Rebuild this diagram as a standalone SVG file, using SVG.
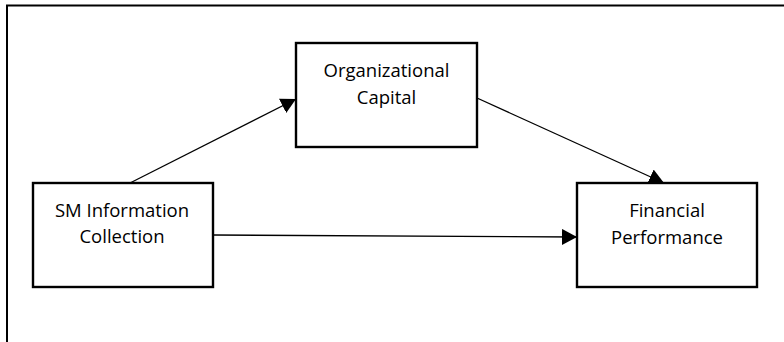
<svg xmlns="http://www.w3.org/2000/svg" width="784" height="342" viewBox="0 0 784 342">
  <style>
    .box { fill: #ffffff; stroke: #000000; stroke-width: 2.4; }
    .frame { fill: none; stroke: #000000; stroke-width: 2; }
    .edge { fill: none; stroke: #000000; stroke-width: 1.3; marker-end: url(#arrow); }
    .label { font-family: "Open Sans", "Noto Sans", "Liberation Sans", sans-serif; font-size: 18.5px; fill: #000000; text-anchor: middle; }
  </style>
  <defs>
    <marker id="arrow" markerUnits="userSpaceOnUse" markerWidth="15" markerHeight="16" refX="15" refY="8" orient="auto">
      <path d="M0,0 L15,8 L0,16 z" fill="#000000"/>
    </marker>
  </defs>

  <rect width="784" height="342" fill="#ffffff"/>

  <!-- page frame: top and left rules -->
  <path class="frame" d="M7,342 L7,5.5 L784,5.5"/>

  <!-- connectors -->
  <g id="connectors">
    <line class="edge" x1="130" y1="183" x2="296" y2="99"/>
    <line class="edge" x1="477" y1="98" x2="664" y2="183"/>
    <line class="edge" x1="213" y1="235" x2="577" y2="237"/>
  </g>

  <g id="node-org-capital">
    <rect class="box" x="296" y="43" width="181" height="104"/>
    <text class="label" x="386.5" y="77">Organizational</text>
    <text class="label" x="386.5" y="104">Capital</text>
  </g>

  <g id="node-sm-info">
    <rect class="box" x="33" y="183" width="180" height="104"/>
    <text class="label" x="122" y="217">SM Information</text>
    <text class="label" x="122" y="243">Collection</text>
  </g>

  <g id="node-financial">
    <rect class="box" x="577" y="183" width="180" height="104"/>
    <text class="label" x="667" y="217">Financial</text>
    <text class="label" x="667" y="244">Performance</text>
  </g>
</svg>
